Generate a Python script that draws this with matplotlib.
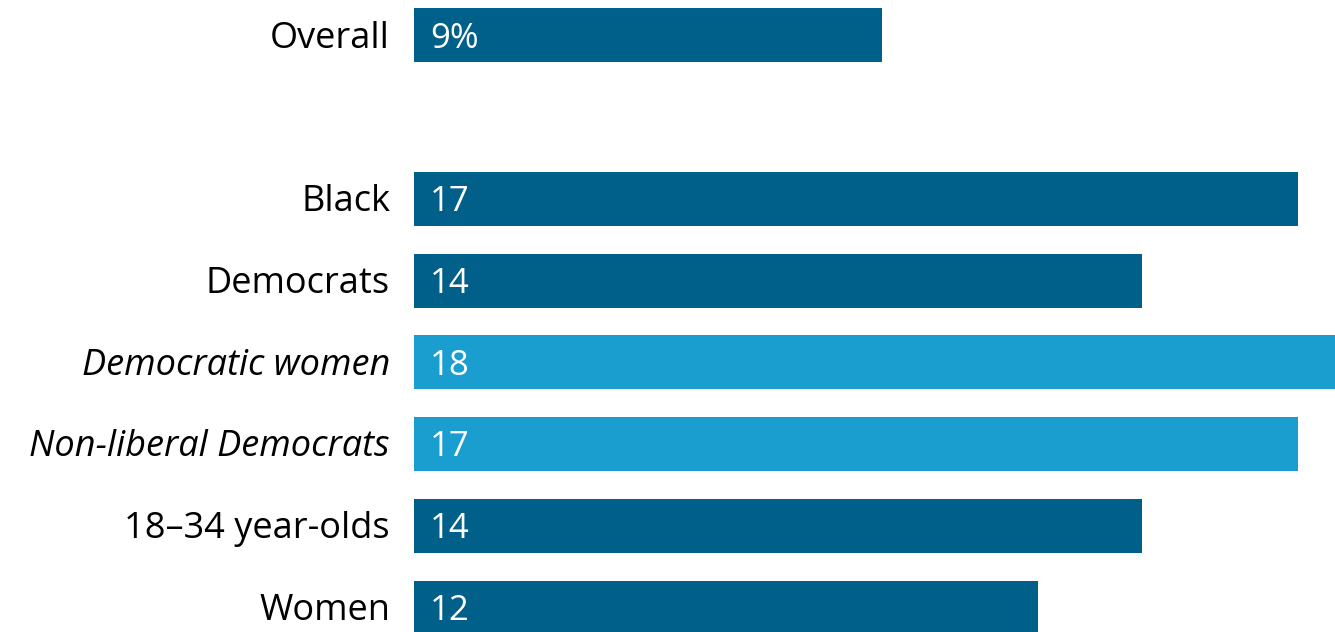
import matplotlib
matplotlib.use("Agg")
import matplotlib.pyplot as plt

plt.rcParams['font.family'] = ['Open Sans', 'DejaVu Sans']

# data, top to bottom
groups = ['Overall', 'Black', 'Democrats', 'Democratic women',
          'Non-liberal Democrats', '18–34 year-olds', 'Women']
values = [9, 17, 14, 18, 17, 14, 12]
value_labels = ['9%', '17', '14', '18', '17', '14', '12']
slots = [0, 2, 3, 4, 5, 6, 7]
highlight = [False, False, False, True, True, False, False]

dark = '#00608A'
light = '#1A9DCF'

W, H = 1335, 632
fig = plt.figure(figsize=(W / 100, H / 100), dpi=100)
# axes starts where the bars start
ax = fig.add_axes([414 / W, 0, 1 - 414 / W, 1])

colors = [light if h else dark for h in highlight]
ax.barh(slots, values, height=0.66, color=colors, left=0)

for s, v, lab, h, g in zip(slots, values, value_labels, highlight, groups):
    ax.text(0.31, s + 0.04, lab, color='white', fontsize=25, va='center',
            ha='left', weight='medium')
    ax.text(-0.46, s + 0.04, g, color='black', fontsize=26, va='center', ha='right',
            style='italic' if h else 'normal', weight='medium', clip_on=False)

ax.set_xlim(0, (W - 414) / 52)
ax.set_ylim(7.30, -0.434)
ax.axis('off')

fig.savefig('out.png', dpi=100)
